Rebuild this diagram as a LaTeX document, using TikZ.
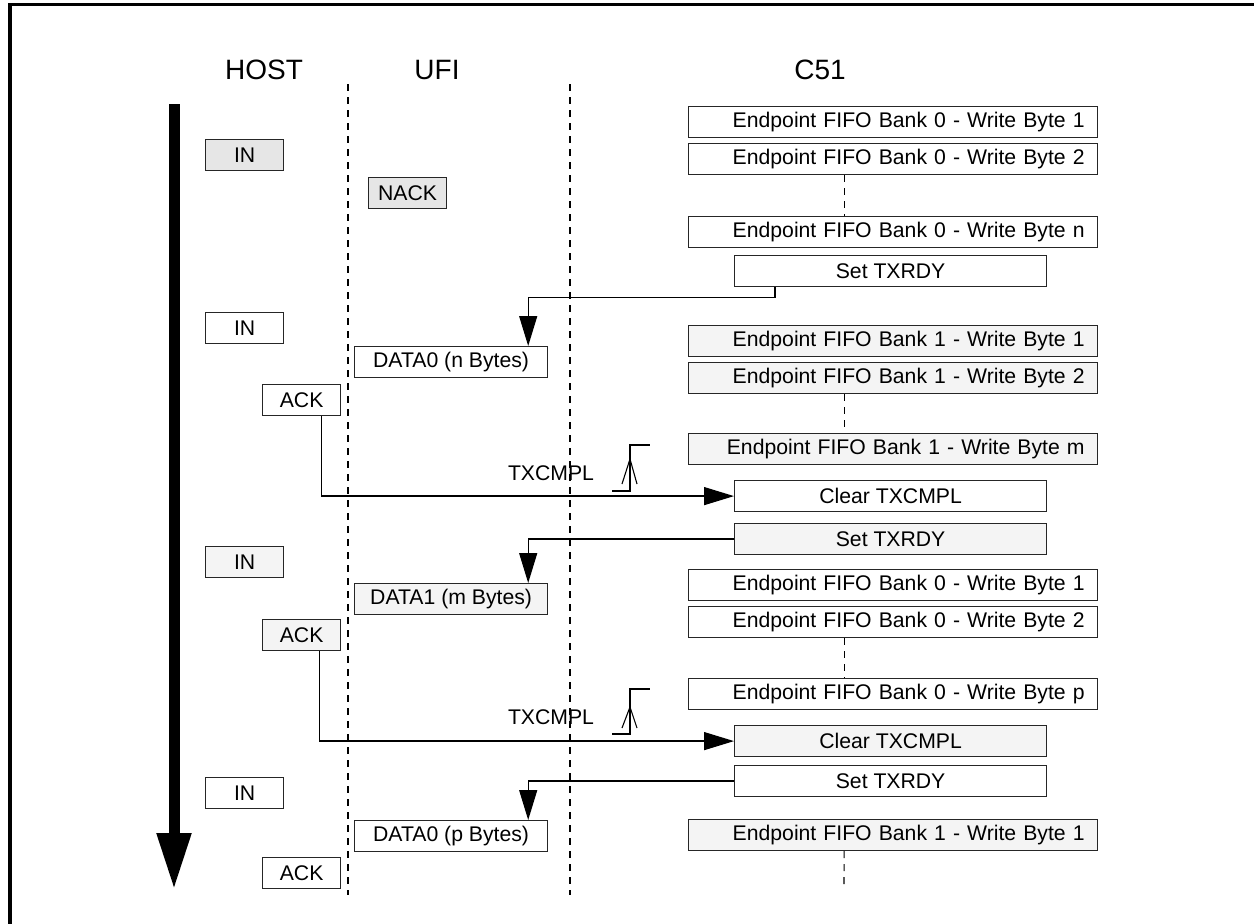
\documentclass[tikz,border=0pt]{standalone}
\usepackage{fontspec}
\setmainfont{Liberation Sans}
\usepackage{tikz}
\usetikzlibrary{arrows.meta}
\usetikzlibrary{positioning}
\usetikzlibrary{calc}

\definecolor{boxgray}{RGB}{230,230,230}
\definecolor{boxlight}{RGB}{244,244,244}
\newcommand{\boxfont}{\fontsize{21.2}{24}\selectfont}
\newcommand{\headfont}{\fontsize{28}{32}\selectfont}

\tikzset{
  box/.style={draw=black!85, line width=1.2pt, minimum height=31pt, inner sep=0pt, font=\boxfont, anchor=north west},
  hostbox/.style={box, minimum width=78pt},
  databox/.style={box, minimum width=193pt},
  epbox/.style={box, text width=383pt, inner xsep=13pt, align=right},
  regbox/.style={box, minimum width=312pt},
  dline/.style={line width=1.1pt, dash pattern=on 7pt off 6pt},
  conn/.style={line width=1.3pt, -{Triangle[length=30pt,width=18pt]}},
  irq/.style={line width=1.1pt}
}

\begin{document}
\begin{tikzpicture}[x=1pt,y=-1pt]
  \useasboundingbox (0,0) rectangle (1254,924);
  \draw[line width=3.5pt] (10,924) -- (10,4.5) -- (1254,4.5);

  % headers and lifelines
  \node[font=\headfont] (host) at (264,70) {HOST};
  \node[font=\headfont] (ufi) at (437,70) {UFI};
  \node[font=\headfont] (cfive) at (820,70) {C51};
  \coordinate (ufitop) at (348,84);
  \coordinate (ufibot) at (348,895);
  \coordinate (cfivetop) at (570,84);
  \coordinate (cfivebot) at (570,895);
  \draw[dline] (ufitop) -- (ufibot);
  \draw[dline] (cfivetop) -- (cfivebot);

  % time arrow
  \coordinate (timetop) at (174,104);
  \coordinate (timebot) at (174,890);
  \draw[line width=11pt, -{Triangle[length=57pt,width=32pt]}] (timetop) -- (timebot);

  % host / ufi packets
  \node[hostbox, fill=boxgray] (in1) at (205,139) {IN};
  \node[hostbox, fill=boxgray] (nack) at (368,177) {NACK};
  \node[hostbox] (in2) at (205,312) {IN};
  \node[databox] (data0n) at (354,346) {DATA0 (n Bytes)};
  \node[hostbox] (ack1) at (262,384) {ACK};
  \node[hostbox, fill=boxlight] (in3) at (205,546) {IN};
  \node[databox, fill=boxlight] (data1) at (354,583) {DATA1 (m Bytes)};
  \node[hostbox, fill=boxlight] (ack2) at (262,619) {ACK};
  \node[hostbox] (in4) at (205,777) {IN};
  \node[databox] (data0p) at (354,820) {DATA0 (p Bytes)};
  \node[hostbox] (ack3) at (262,857) {ACK};

  % c51 actions
  \node[epbox] (epa1) at (688,106) {Endpoint FIFO Bank 0 - Write Byte 1};
  \node[epbox] (epa2) at (688,143) {Endpoint FIFO Bank 0 - Write Byte 2};
  \node[epbox] (epan) at (688,216) {Endpoint FIFO Bank 0 - Write Byte n};
  \node[regbox] (txrdy1) at (734,255) {Set TXRDY};
  \node[epbox, fill=boxlight] (epb1) at (688,325) {Endpoint FIFO Bank 1 - Write Byte 1};
  \node[epbox, fill=boxlight] (epb2) at (688,362) {Endpoint FIFO Bank 1 - Write Byte 2};
  \node[epbox, fill=boxlight] (epbm) at (688,433) {Endpoint FIFO Bank 1 - Write Byte m};
  \node[regbox] (clr1) at (734,480) {Clear TXCMPL};
  \node[regbox, fill=boxlight] (txrdy2) at (734,523) {Set TXRDY};
  \node[epbox] (epc1) at (688,569) {Endpoint FIFO Bank 0 - Write Byte 1};
  \node[epbox] (epc2) at (688,606) {Endpoint FIFO Bank 0 - Write Byte 2};
  \node[epbox] (epcp) at (688,678) {Endpoint FIFO Bank 0 - Write Byte p};
  \node[regbox, fill=boxlight] (clr2) at (734,725) {Clear TXCMPL};
  \node[regbox] (txrdy3) at (734,765) {Set TXRDY};
  \node[epbox, fill=boxlight] (epd1) at (688,819) {Endpoint FIFO Bank 1 - Write Byte 1};
  \coordinate (epdend) at (844,890);

  \draw[dline] ([xshift=-49pt]epa2.south) -- ([xshift=-49pt]epan.north);
  \draw[dline] ([xshift=-49pt]epb2.south) -- ([xshift=-49pt]epbm.north);
  \draw[dline] ([xshift=-49pt]epc2.south) -- ([xshift=-49pt]epcp.north);
  \draw[dline] ([xshift=-49pt]epd1.south) -- (epdend);

  % connectors
  \draw[conn] ([xshift=41pt]txrdy1.south west) -- ++(0,10) -| ([xshift=-20pt]data0n.north east);
  \draw[conn] (txrdy2.west) -| ([xshift=-20pt]data1.north east);
  \draw[conn] (txrdy3.west) -| ([xshift=-20pt]data0p.north east);
  \draw[conn] ([xshift=20pt]ack1.south) |- (clr1.west);
  \draw[conn] ([xshift=18pt]ack2.south) |- (clr2.west);

  % TXCMPL interrupts
  \node[font=\boxfont] (txcmpl1) at (551,473) {TXCMPL};
  \node[font=\boxfont] (txcmpl2) at (551,717) {TXCMPL};
  \begin{scope}[shift={(0,0)}]
    \draw[irq] (612,491) -- (630,491) -- (630,445) -- (650,445);
    \draw[irq] (622,484) -- (630,459) -- (637,484);
  \end{scope}
  \begin{scope}[shift={(0,244)}]
    \draw[irq] (612,490) -- (630,490) -- (630,445) -- (650,445);
    \draw[irq] (622,484) -- (630,463) -- (637,484);
  \end{scope}
\end{tikzpicture}
\end{document}
